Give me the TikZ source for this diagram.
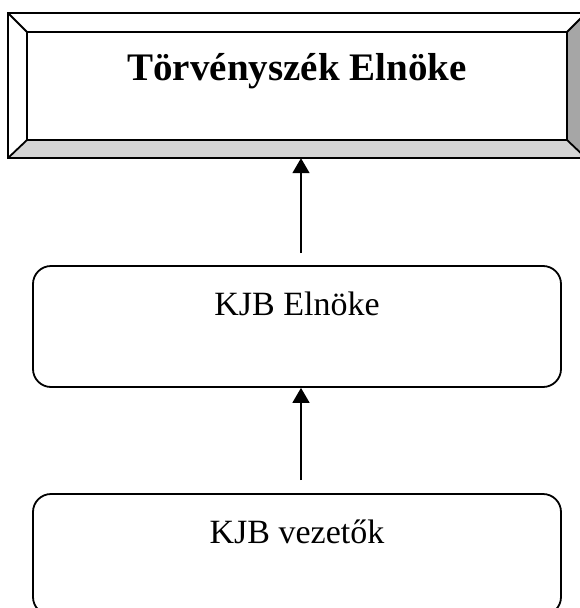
\documentclass[tikz,border=0pt]{standalone}
\usepackage{fontspec}
\setmainfont{Liberation Serif}
\usetikzlibrary{arrows.meta}
\definecolor{bevelside}{HTML}{A6A6A6}
\definecolor{bevelbottom}{HTML}{D4D4D4}
\begin{document}
\begin{tikzpicture}[x=1pt,y=-1pt,
  outline/.style={draw=black,line width=1.8pt,line join=miter},
  roundbox/.style={draw=black,line width=1.8pt,rounded corners=18pt,
    minimum width=528pt,minimum height=121pt,inner sep=0pt},
  label/.style={anchor=base,inner sep=0pt,font=\fontsize{34}{40}\selectfont},
  arr/.style={draw=black,line width=1.8pt,
    -{Triangle[length=15pt,width=17pt]}}]
  \useasboundingbox (0,0) rectangle (579,608);

  % bevelled title frame
  \node[minimum width=578pt,minimum height=145pt,inner sep=0pt] (top) at (297,85.5) {};
  \node[minimum width=540pt,minimum height=108pt,inner sep=0pt] (topin) at (297,86) {};
  \fill[white] (top.north west) rectangle (top.south east);
  \fill[bevelbottom] (top.south west) -- (topin.south west) -- (topin.south east) -- (top.south east) -- cycle;
  \fill[bevelside] (top.north east) -- (topin.north east) -- (topin.south east) -- (top.south east) -- cycle;
  \draw[outline] (top.north west) rectangle (top.south east);
  \draw[outline] (topin.north west) rectangle (topin.south east);
  \draw[outline] (top.north west) -- (topin.north west);
  \draw[outline] (top.south west) -- (topin.south west);
  \draw[outline] (top.north east) -- (topin.north east);
  \draw[outline] (top.south east) -- (topin.south east);
  \node[label,font=\fontsize{39}{46}\selectfont\bfseries] (toptext) at (297,80) {Törvényszék Elnöke};

  % rounded boxes
  \node[roundbox] (elnok) at (297,326.5) {};
  \node[label] (elnoktext) at (297,315) {KJB Elnöke};
  \node[roundbox] (vezetok) at (297,554.5) {};
  \node[label] (vezetoktext) at (297,543) {KJB vezetők};

  % connectors
  \coordinate (t1) at (301,253);
  \coordinate (t2) at (301,480);
  \draw[arr] (t1) -- (t1 |- top.south);
  \draw[arr] (t2) -- (t2 |- elnok.south);
\end{tikzpicture}
\end{document}
